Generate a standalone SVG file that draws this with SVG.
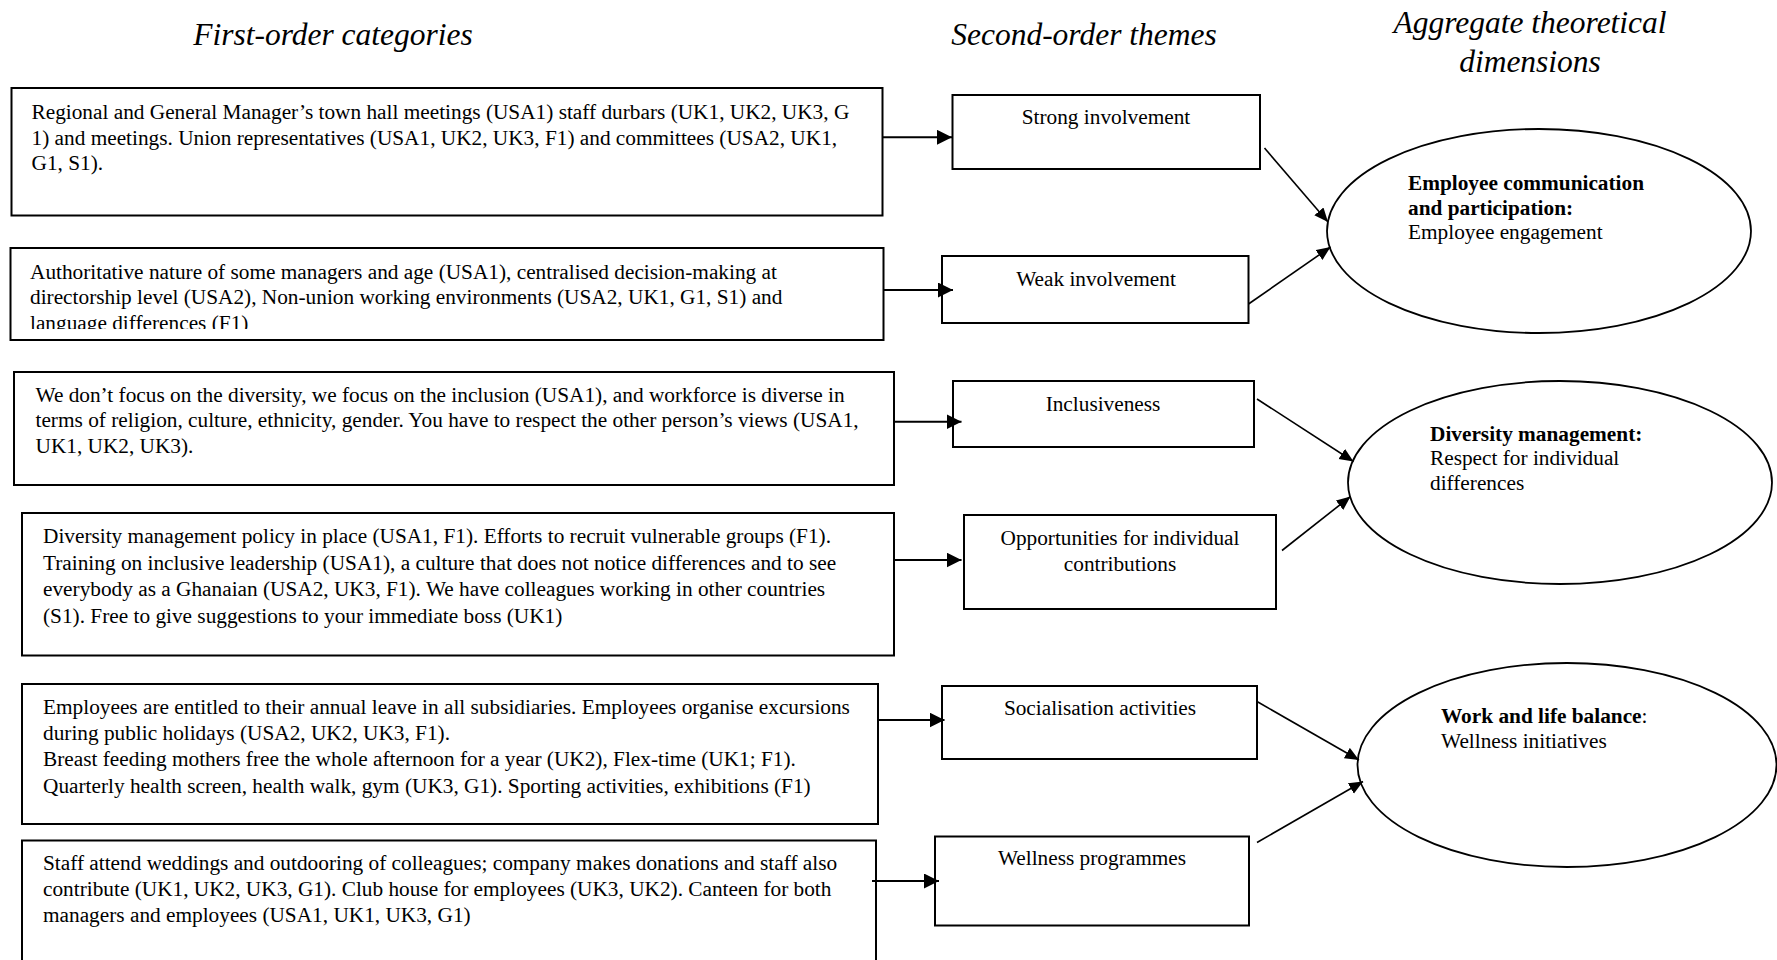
<svg xmlns="http://www.w3.org/2000/svg" width="1777" height="960" viewBox="0 0 1777 960">
  <style>
    .bg { fill: #ffffff; }
    .box { fill: #ffffff; stroke: #000000; stroke-width: 2; }
    .oval { fill: #ffffff; stroke: #000000; stroke-width: 1.8; }
    .head { font-family: "Liberation Serif", "Times New Roman", serif; font-style: italic; font-size: 31.5px; fill: #000000; text-anchor: middle; }
    .txt { font-family: "Liberation Serif", "Times New Roman", serif; font-size: 21.3px; fill: #000000; }
    .mid { text-anchor: middle; }
    .b { font-weight: bold; }
    .link { stroke: #000000; stroke-width: 2; fill: none; marker-end: url(#bigHead); }
    .diag { stroke: #000000; stroke-width: 1.6; fill: none; marker-end: url(#smallHead); }
  </style>
  <defs>
    <marker id="bigHead" markerUnits="userSpaceOnUse" markerWidth="16" markerHeight="16" refX="15" refY="7.5" orient="auto" viewBox="0 0 16 16">
      <path d="M0,0 L15,7.5 L0,15 z" fill="#000000"/>
    </marker>
    <marker id="smallHead" markerUnits="userSpaceOnUse" markerWidth="15" markerHeight="13" refX="14" refY="6" orient="auto" viewBox="0 0 15 13">
      <path d="M0,0 L14,6 L0,12 z" fill="#000000"/>
    </marker>
    <clipPath id="clipAuth">
      <rect x="12" y="250" width="870" height="79"/>
    </clipPath>
  </defs>

  <rect class="bg" x="0" y="0" width="1777" height="960"/>

  <!-- column headings -->
  <g id="headings">
    <text class="head" x="333" y="45">First-order categories</text>
    <text class="head" x="1084" y="45">Second-order themes</text>
    <text class="head" x="1530" y="33">Aggregate theoretical</text>
    <text class="head" x="1530" y="72">dimensions</text>
  </g>

  <!-- first-order categories -->
  <g id="cat-meetings">
    <rect class="box" x="11.5" y="88" width="871" height="127.5"/>
    <text class="txt" x="31.5" y="119">Regional and General Manager’s town hall meetings (USA1) staff durbars (UK1, UK2, UK3, G</text>
    <text class="txt" x="31.5" y="144.5">1) and meetings. Union representatives (USA1, UK2, UK3, F1) and committees (USA2, UK1,</text>
    <text class="txt" x="31.5" y="170">G1, S1).</text>
  </g>

  <g id="cat-authoritative">
    <rect class="box" x="10.5" y="248" width="873" height="92"/>
    <g clip-path="url(#clipAuth)">
      <text class="txt" x="30" y="278.5">Authoritative nature of some managers and age (USA1), centralised decision-making at</text>
      <text class="txt" x="30" y="304">directorship level (USA2), Non-union working environments (USA2, UK1, G1, S1) and</text>
      <text class="txt" x="30" y="329.7">language differences (F1)</text>
    </g>
  </g>

  <g id="cat-inclusion">
    <rect class="box" x="14" y="372" width="880" height="113"/>
    <text class="txt" x="35.5" y="401.5">We don’t focus on the diversity, we focus on the inclusion (USA1), and workforce is diverse in</text>
    <text class="txt" x="35.5" y="427">terms of religion, culture, ethnicity, gender. You have to respect the other person’s views (USA1,</text>
    <text class="txt" x="35.5" y="452.7">UK1, UK2, UK3).</text>
  </g>

  <g id="cat-policy">
    <rect class="box" x="22" y="513" width="872" height="142.5"/>
    <text class="txt" x="43" y="543">Diversity management policy in place (USA1, F1). Efforts to recruit vulnerable groups (F1).</text>
    <text class="txt" x="43" y="569.5">Training on inclusive leadership (USA1), a culture that does not notice differences and to see</text>
    <text class="txt" x="43" y="596">everybody as a Ghanaian (USA2, UK3, F1). We have colleagues working in other countries</text>
    <text class="txt" x="43" y="622.5">(S1). Free to give suggestions to your immediate boss (UK1)</text>
  </g>

  <g id="cat-leave">
    <rect class="box" x="22" y="684" width="856" height="140"/>
    <text class="txt" x="43" y="713.5">Employees are entitled to their annual leave in all subsidiaries. Employees organise excursions</text>
    <text class="txt" x="43" y="740">during public holidays (USA2, UK2, UK3, F1).</text>
    <text class="txt" x="43" y="766">Breast feeding mothers free the whole afternoon for a year (UK2), Flex-time (UK1; F1).</text>
    <text class="txt" x="43" y="792.5">Quarterly health screen, health walk, gym (UK3, G1). Sporting activities, exhibitions (F1)</text>
  </g>

  <g id="cat-social">
    <rect class="box" x="22" y="840.5" width="854" height="130"/>
    <text class="txt" x="43" y="870">Staff attend weddings and outdooring of colleagues; company makes donations and staff also</text>
    <text class="txt" x="43" y="896">contribute (UK1, UK2, UK3, G1). Club house for employees (UK3, UK2). Canteen for both</text>
    <text class="txt" x="43" y="922">managers and employees (USA1, UK1, UK3, G1)</text>
  </g>

  <!-- second-order themes -->
  <g id="theme-strong">
    <rect class="box" x="952.5" y="95" width="307.5" height="74"/>
    <text class="txt mid" x="1106" y="124">Strong involvement</text>
  </g>
  <g id="theme-weak">
    <rect class="box" x="942" y="256" width="306.5" height="67"/>
    <text class="txt mid" x="1096" y="286">Weak involvement</text>
  </g>
  <g id="theme-inclusive">
    <rect class="box" x="953" y="381" width="301" height="66"/>
    <text class="txt mid" x="1103" y="411">Inclusiveness</text>
  </g>
  <g id="theme-opportunities">
    <rect class="box" x="964" y="515" width="312" height="94"/>
    <text class="txt mid" x="1120" y="545">Opportunities for individual</text>
    <text class="txt mid" x="1120" y="571">contributions</text>
  </g>
  <g id="theme-socialisation">
    <rect class="box" x="942" y="686" width="315" height="73"/>
    <text class="txt mid" x="1100" y="715">Socialisation activities</text>
  </g>
  <g id="theme-wellness">
    <rect class="box" x="935" y="836.5" width="314" height="89"/>
    <text class="txt mid" x="1092" y="865">Wellness programmes</text>
  </g>

  <!-- aggregate dimensions -->
  <g id="dim-communication">
    <ellipse class="oval" cx="1539" cy="231" rx="212" ry="102"/>
    <text class="txt b" x="1408" y="190">Employee communication</text>
    <text class="txt b" x="1408" y="215">and participation:</text>
    <text class="txt" x="1408" y="239">Employee engagement</text>
  </g>
  <g id="dim-diversity">
    <ellipse class="oval" cx="1560" cy="482.5" rx="212" ry="101.5"/>
    <text class="txt b" x="1430" y="440.5">Diversity management:</text>
    <text class="txt" x="1430" y="465">Respect for individual</text>
    <text class="txt" x="1430" y="489.5">differences</text>
  </g>
  <g id="dim-balance">
    <ellipse class="oval" cx="1567" cy="765" rx="209.5" ry="102"/>
    <text class="txt" x="1441" y="722.5"><tspan class="b">Work and life balance</tspan>:</text>
    <text class="txt" x="1441" y="747.5">Wellness initiatives</text>
  </g>

  <!-- connectors -->
  <g id="connectors">
    <line class="link" x1="882" y1="137.3" x2="952" y2="137.3"/>
    <line class="link" x1="884" y1="290" x2="953" y2="290"/>
    <line class="link" x1="894" y1="421.7" x2="961.5" y2="421.7"/>
    <line class="link" x1="894" y1="560" x2="961.5" y2="560"/>
    <line class="link" x1="878" y1="720" x2="944.5" y2="720"/>
    <line class="link" x1="872" y1="881" x2="939" y2="881"/>

    <line class="diag" x1="1264.5" y1="148" x2="1328" y2="222"/>
    <line class="diag" x1="1248.5" y1="304" x2="1330.5" y2="247"/>
    <line class="diag" x1="1257" y1="399" x2="1353.5" y2="461.5"/>
    <line class="diag" x1="1282" y1="550.5" x2="1350.5" y2="496.5"/>
    <line class="diag" x1="1257" y1="701.5" x2="1359" y2="760"/>
    <line class="diag" x1="1257" y1="842.5" x2="1363" y2="781.5"/>
  </g>
</svg>
